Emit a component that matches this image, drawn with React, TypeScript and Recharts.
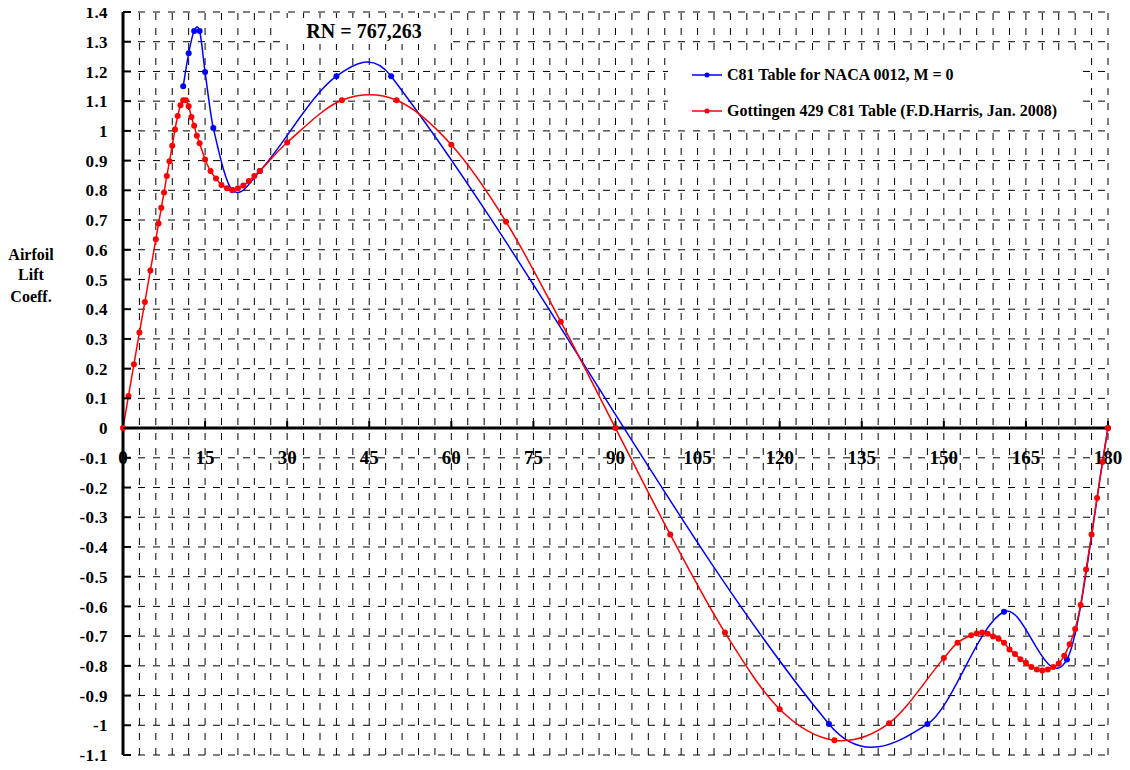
import React from 'react'
import {
  CartesianGrid,
  Legend,
  Line,
  LineChart,
  ReferenceDot,
  ReferenceLine,
  XAxis,
  YAxis,
} from 'recharts'

const FONT = "'Times New Roman', 'Liberation Serif', serif"

// C81 table for NACA 0012, M = 0 (angle of attack, deg / lift coeff.)
const naca0012Alpha = [11, 12, 13, 14, 15, 16.5, 20, 25, 39, 49, 129, 147, 161, 172.5, 180]
const naca0012Cl = [1.15, 1.261, 1.336, 1.336, 1.198, 1.01, 0.8, 0.865, 1.184, 1.184, -0.996, -0.996, -0.618, -0.779, 0]

// Gottingen 429 C81 table (F.D.Harris, Jan. 2008)
const gottingenAlpha = [
  0, 1, 2, 3, 4, 5, 6, 6.5, 7, 7.5, 8, 8.5, 9, 9.5, 10, 10.5, 11, 11.5, 12, 12.5, 13, 13.5, 14,
  15, 16, 17, 18, 19, 20, 21, 22, 23, 24, 25, 30, 40, 50, 60, 70, 80, 90, 100, 110, 120, 130,
  140, 150, 152.5, 155, 156, 157, 158, 159, 160, 161, 162, 163, 164, 165, 166, 167, 168, 169,
  170, 171, 172, 173, 174, 175, 176, 177, 178, 179, 180,
]
const gottingenCl = [
  0, 0.108, 0.215, 0.322, 0.424, 0.53, 0.635, 0.688, 0.741, 0.793, 0.848, 0.898, 0.95, 1.005,
  1.05, 1.086, 1.103, 1.103, 1.083, 1.047, 1.017, 0.984, 0.958, 0.904, 0.865, 0.84, 0.818,
  0.807, 0.801, 0.807, 0.816, 0.831, 0.848, 0.865, 0.961, 1.103, 1.103, 0.953, 0.694, 0.358, 0,
  -0.358, -0.688, -0.946, -1.05, -0.993, -0.774, -0.722, -0.697, -0.691, -0.688, -0.692, -0.701,
  -0.709, -0.722, -0.745, -0.76, -0.778, -0.79, -0.804, -0.812, -0.816, -0.812, -0.804, -0.792,
  -0.766, -0.727, -0.676, -0.595, -0.476, -0.358, -0.235, -0.114, 0,
]

const xLabelTicks = [0, 15, 30, 45, 60, 75, 90, 105, 120, 135, 150, 165, 180]
const xGridTicks = Array.from({ length: 61 }, (_, i) => i * 3)
const yTicks = [
  -1.1, -1, -0.9, -0.8, -0.7, -0.6, -0.5, -0.4, -0.3, -0.2, -0.1, 0, 0.1, 0.2, 0.3, 0.4, 0.5,
  0.6, 0.7, 0.8, 0.9, 1, 1.1, 1.2, 1.3, 1.4,
]

const naca0012Data = naca0012Alpha.map((x, i) => ({ x, y: naca0012Cl[i] }))
const gottingenData = gottingenAlpha.map((x, i) => ({ x, y: gottingenCl[i] }))

// Excel-like smoothed line: cubic Hermite with centred finite-difference slopes
type PathCtx = {
  moveTo: (x: number, y: number) => void
  bezierCurveTo: (a: number, b: number, c: number, d: number, e: number, f: number) => void
}
const smoothCurve = (context: PathCtx) => {
  let xs: number[] = []
  let ys: number[] = []
  return {
    areaStart() {},
    areaEnd() {},
    lineStart() {
      xs = []
      ys = []
    },
    point(x: number, y: number) {
      xs.push(+x)
      ys.push(+y)
    },
    lineEnd() {
      const n = xs.length
      if (!n) return
      context.moveTo(xs[0], ys[0])
      const slope = (i: number) => {
        const a = Math.max(0, i - 1)
        const b = Math.min(n - 1, i + 1)
        return (ys[b] - ys[a]) / (xs[b] - xs[a])
      }
      for (let i = 0; i < n - 1; i++) {
        const h = (xs[i + 1] - xs[i]) / 3
        context.bezierCurveTo(
          xs[i] + h,
          ys[i] + slope(i) * h,
          xs[i + 1] - h,
          ys[i + 1] - slope(i + 1) * h,
          xs[i + 1],
          ys[i + 1]
        )
      }
    },
  }
}

const YTick = ({ x, y, payload }: any) => (
  <g>
    <line x1={x} x2={x + 8} y1={y} y2={y} stroke='#000' strokeWidth={2} />
    <text
      x={x - 15}
      y={y}
      dy='0.36em'
      textAnchor='end'
      fontFamily={FONT}
      fontWeight='bold'
      fontSize={17}
      letterSpacing={0.4}
      fill='#000'
    >
      {payload.value}
    </text>
  </g>
)

const xTickShape = (label: number) => (props: any) => (
  <g>
    <line
      x1={props.cx}
      x2={props.cx}
      y1={props.cy - 7}
      y2={props.cy}
      stroke='#000'
      strokeWidth={2}
    />
    <text
      x={props.cx}
      y={props.cy + 36}
      textAnchor='middle'
      fontFamily={FONT}
      fontWeight='bold'
      fontSize={19}
      fill='#000'
    >
      {label}
    </text>
  </g>
)

const renderYLabel = (props: any) => {
  const vb = props.viewBox || { x: 0, y: 0 }
  return (
    <text
      x={vb.x + 23}
      textAnchor='middle'
      fontFamily={FONT}
      fontWeight='bold'
      fontSize={16}
      fill='#000'
    >
      <tspan x={vb.x + 23} y={vb.y + 248}>Airfoil</tspan>
      <tspan x={vb.x + 23} y={vb.y + 268}>Lift</tspan>
      <tspan x={vb.x + 23} y={vb.y + 290}>Coeff.</tspan>
    </text>
  )
}

const renderLegend = (props: any) => (
  <div style={{ width: 414, height: 72, background: '#fff' }}>
    {(props.payload ?? []).map((entry: any) => (
      <div
        key={entry.value}
        style={{ display: 'flex', alignItems: 'center', height: 36, paddingLeft: 24 }}
      >
        <svg width={30} height={8}>
          <line x1={0} x2={30} y1={4} y2={4} stroke={entry.color} strokeWidth={1.5} />
          <circle cx={15} cy={4} r={2.5} fill={entry.color} />
        </svg>
        <span
          style={{
            marginLeft: 5,
            fontFamily: FONT,
            fontWeight: 'bold',
            fontSize: 16,
            color: '#000',
          }}
        >
          {entry.value}
        </span>
      </div>
    ))}
  </div>
)

const App = (): JSX.Element => (
  <div style={{ position: 'relative', width: 1114, height: 764, marginTop: -4 }}>
    <LineChart
      width={1114}
      height={764}
      margin={{ top: 8, right: 14, bottom: 13, left: 0 }}
    >
      <CartesianGrid stroke='#000' strokeDasharray='7 8' strokeWidth={1} vertical={false} />
      {/* vertical grid, every 3 deg */}
      {xGridTicks.map((t) => (
        <ReferenceLine key={`g${t}`} x={t} stroke='#000' strokeWidth={1} strokeDasharray='7 8' />
      ))}
      <XAxis
        type='number'
        dataKey='x'
        domain={[0, 180]}
        ticks={xLabelTicks}
        interval={0}
        height={0}
        tick={false}
        tickLine={false}
        axisLine={false}
      />
      <YAxis
        type='number'
        domain={[-1.1, 1.4]}
        ticks={yTicks}
        interval={0}
        width={115}
        tickSize={0}
        tickMargin={0}
        tickLine={false}
        tick={<YTick />}
        axisLine={{ stroke: '#000', strokeWidth: 3 }}
        label={{ content: renderYLabel }}
      />
      <ReferenceLine y={0} stroke='#000' strokeWidth={3} />
      {xLabelTicks.map((t) => (
        <ReferenceDot key={t} x={t} y={0} r={0} shape={xTickShape(t)} />
      ))}
      <Legend
        layout='horizontal'
        verticalAlign='middle'
        align='center'
        wrapperStyle={{ left: 660, top: 53, width: 414, height: 72 }}
        content={renderLegend}
      />
      <Line
        data={naca0012Data}
        dataKey='y'
        name='C81 Table for NACA 0012, M = 0'
        type={smoothCurve as any}
        stroke='#0000ff'
        strokeWidth={1.5}
        dot={{ r: 3, fill: '#0000ff', stroke: 'none' }}
        activeDot={false}
        isAnimationActive={false}
      />
      <Line
        data={gottingenData}
        dataKey='y'
        name='Gottingen 429 C81 Table (F.D.Harris, Jan. 2008)'
        type={smoothCurve as any}
        stroke='#ff0000'
        strokeWidth={1.5}
        dot={{ r: 3, fill: '#ff0000', stroke: 'none' }}
        activeDot={false}
        isAnimationActive={false}
      />
    </LineChart>
    <div
      style={{
        position: 'absolute',
        left: 275,
        top: 14,
        width: 162,
        height: 26,
        lineHeight: '26px',
        background: '#fff',
        textAlign: 'center',
        fontFamily: FONT,
        fontWeight: 'bold',
        fontSize: 20,
        color: '#000',
      }}
    >
      RN = 767,263
    </div>
  </div>
)

export default App
